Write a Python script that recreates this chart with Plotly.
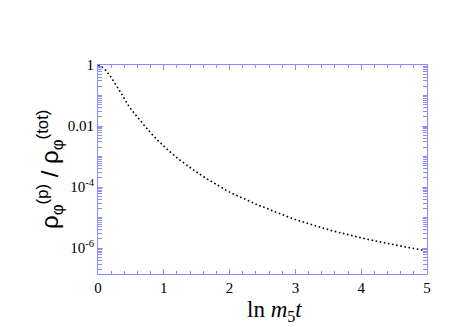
import plotly.graph_objects as go

# data: x = ln(m5 t), y = log10 of ratio
x_vals = [0.0, 0.07, 0.18, 0.33, 0.48, 0.65, 0.82, 1.0, 1.19, 1.40, 1.52, 1.67, 1.82,
          1.97, 2.12, 2.28, 2.43, 2.59, 2.76, 3.02, 3.28, 3.54, 3.80, 4.07, 4.34, 4.62, 4.97]
log_ratio = [0.0, -0.076, -0.35, -0.85, -1.38, -1.84, -2.27, -2.66, -3.02, -3.36, -3.54,
             -3.75, -3.94, -4.13, -4.29, -4.44, -4.59, -4.72, -4.87, -5.08, -5.25, -5.42,
             -5.56, -5.70, -5.82, -5.94, -6.08]
ratio = [10 ** v for v in log_ratio]

y_tickvals = [1, 0.01, 1e-4, 1e-6]
y_ticktext = ["1", "0.01", "10<sup>-4</sup>", "10<sup>-6</sup>"]
x_tickvals = [0, 1, 2, 3, 4, 5]
x_ticktext = ["0", "1", "2", "3", "4", "5"]

axis_color = "#8c8cff"

y_minor = [0.1, 1e-3, 1e-5]
for e in range(0, -7, -1):
    for k in range(2, 10):
        v = k * 10 ** (e - 1)
        if v > 10 ** -6.85:
            y_minor.append(v)
x_minor = [i * 0.2 for i in range(26) if i % 5 != 0]

fig = go.Figure()
fig.add_trace(go.Scatter(x=x_vals, y=ratio, mode="lines",
                         line=dict(color="black", width=1.6, dash="1.6px,2.6px"),
                         line_shape="spline", showlegend=False))

# page body has an 8px default margin, so the figure is 8px smaller and offset
fig.update_layout(
    width=453, height=319,
    margin=dict(l=90, r=34, t=57, b=53, autoexpand=False),
    paper_bgcolor="white", plot_bgcolor="white",
    font=dict(family="Liberation Serif", color="black", size=15),
)
fig.update_xaxes(
    range=[0, 5], showgrid=False, zeroline=False, automargin=False,
    showline=True, linecolor=axis_color, linewidth=1, mirror="allticks",
    ticks="inside", ticklen=5, tickcolor=axis_color,
    tickvals=x_tickvals, ticktext=x_ticktext,
    tickfont=dict(family="Liberation Serif", size=15),
    minor=dict(ticks="inside", ticklen=3, tickcolor=axis_color, tickvals=x_minor),
)
fig.update_yaxes(
    type="log", range=[-6.85, 0], showgrid=False, zeroline=False, automargin=False,
    showline=True, linecolor=axis_color, linewidth=1, mirror="allticks",
    ticks="inside", ticklen=5, tickcolor=axis_color,
    tickvals=y_tickvals, ticktext=y_ticktext,
    tickfont=dict(family="Liberation Serif", size=15),
    minor=dict(ticks="inside", ticklen=4, tickcolor=axis_color, tickvals=y_minor),
)
fig.add_annotation(
    text="ln <i>m</i><sub>5</sub><i>t</i>", xref="paper", yref="paper",
    x=(274 - 98) / 329, y=-(311 - 274) / 209, xanchor="center", yanchor="middle",
    showarrow=False, font=dict(family="Liberation Serif", size=23, color="black"),
)
fig.add_annotation(
    text="ρ<sub>φ</sub><sup>(p)</sup> / ρ<sub>φ</sub><sup>(tot)</sup>",
    xref="paper", yref="paper", textangle=-90,
    x=-(98 - 50) / 329, y=(274 - 170) / 209, xanchor="center", yanchor="middle",
    showarrow=False, font=dict(family="Liberation Sans", size=24, color="black"),
)

fig.write_html("out.html")
